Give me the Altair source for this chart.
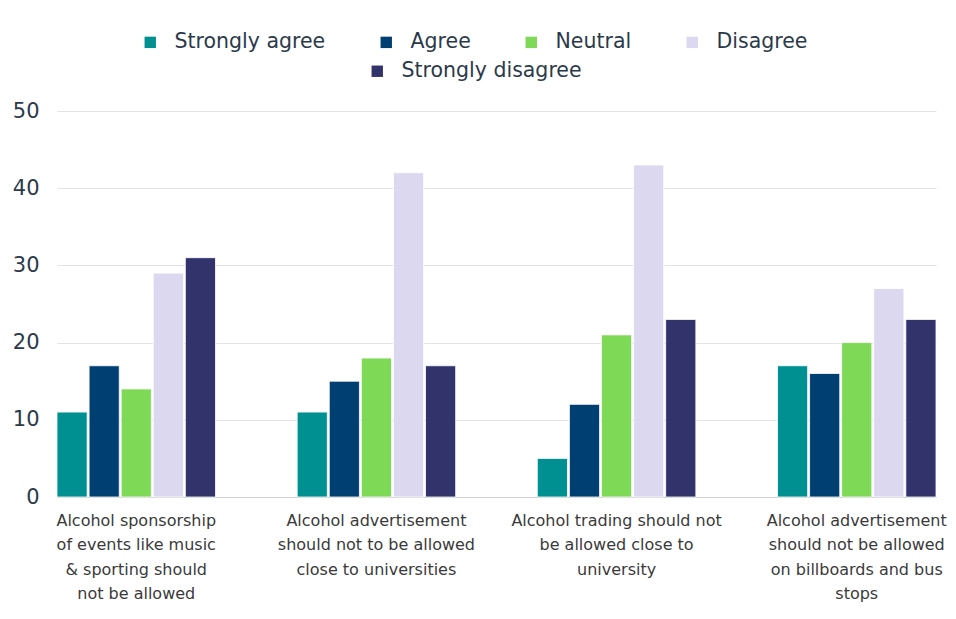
import altair as alt
import pandas as pd

statements = [
    "Alcohol sponsorship|of events like music|& sporting should|not be allowed",
    "Alcohol advertisement|should not to be allowed|close to universities",
    "Alcohol trading should not|be allowed close to|university",
    "Alcohol advertisement|should not be allowed|on billboards and bus|stops",
]
responses = ["Strongly agree", "Agree", "Neutral", "Disagree", "Strongly disagree"]
colors = ["#009092", "#003f72", "#7ed957", "#dcd8ef", "#31336a"]

strongly_agree = [11, 11, 5, 17]
agree = [17, 15, 12, 16]
neutral = [14, 18, 21, 20]
disagree = [29, 42, 43, 27]
strongly_disagree = [31, 17, 23, 23]

series = [strongly_agree, agree, neutral, disagree, strongly_disagree]
rows = []
for r, vals in zip(responses, series):
    for s, v in zip(statements, vals):
        rows.append({"statement": s, "response": r, "value": v})
df = pd.DataFrame(rows)

FONT = "DejaVu Sans"
TXT = "#2b3a4a"
XTXT = "#3a3a3a"

x_enc = alt.X("statement:N", sort=statements, title=None,
              scale=alt.Scale(paddingInner=0.34, paddingOuter=0),
              axis=alt.Axis(labelAngle=0, labelExpr="split(datum.label, '|')",
                            labelFontSize=16, labelColor=XTXT, labelFont=FONT,
                            labelLineHeight=24.5, labelLimit=0, ticks=False,
                            domain=True, domainColor="#cfcfcf", labelPadding=15))
xo_enc = alt.XOffset("response:N", sort=responses,
                     scale=alt.Scale(domain=responses, paddingInner=0.06, paddingOuter=0))
y_enc = alt.Y("value:Q", title=None,
              scale=alt.Scale(domain=[0, 50]),
              axis=alt.Axis(values=[0, 10, 20, 30, 40, 50], labelFontSize=21,
                            labelColor=TXT, labelFont=FONT, domain=False, ticks=False,
                            gridColor="#e3e3e3", labelPadding=18))

leg_common = dict(title=None, orient="none", direction="horizontal",
                  symbolType="square", symbolSize=130, symbolStrokeWidth=0,
                  labelFontSize=20.5, labelColor=TXT, labelFont=FONT, labelLimit=0,
                  columnPadding=50, labelOffset=14)

first4 = responses[:4]
last1 = responses[4:]

base = alt.Chart(df)

layer_a = base.transform_filter(
    alt.FieldOneOfPredicate(field="response", oneOf=first4)
).mark_bar(stroke="white", strokeWidth=0.8).encode(
    x=x_enc, xOffset=xo_enc, y=y_enc,
    color=alt.Color("response:N", sort=first4,
                    scale=alt.Scale(domain=first4, range=colors[:4]),
                    legend=alt.Legend(legendX=83, legendY=-79, **leg_common)),
)

layer_b = base.transform_filter(
    alt.FieldOneOfPredicate(field="response", oneOf=last1)
).mark_bar(stroke="white", strokeWidth=0.8).encode(
    x=x_enc, xOffset=xo_enc, y=y_enc,
    fill=alt.Fill("response:N",
                  scale=alt.Scale(domain=last1, range=colors[4:]),
                  legend=alt.Legend(legendX=310, legendY=-50, **leg_common)),
)

chart = alt.layer(layer_a, layer_b).properties(
    width=879, height=386,
    background="white",
    autosize=alt.AutoSizeParams(type="none"),
    padding={"left": 57, "top": 111, "right": 20, "bottom": 122},
).configure_view(strokeWidth=0)

chart.save("out.html", embed_options={"renderer": "svg", "actions": False})
